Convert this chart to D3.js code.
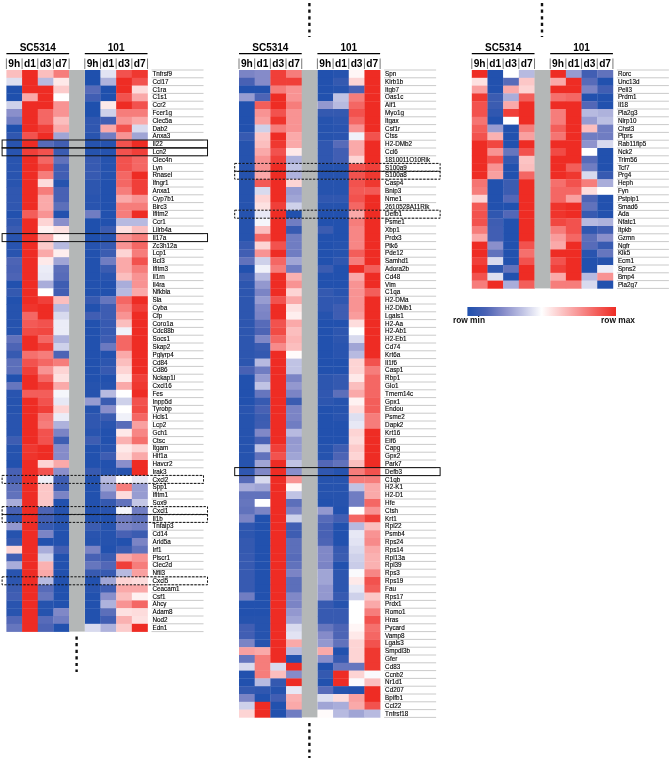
<!DOCTYPE html>
<html><head><meta charset="utf-8">
<script src="https://cdn.jsdelivr.net/npm/d3@7"></script>
<style>html,body{margin:0;background:#fff}svg{display:block;filter:blur(.35px)}text{font-family:"Liberation Sans",Arial,sans-serif}</style>
</head><body><div id="c"></div>
<script>
const strains = ["SC5314","101"];
const times = ["9h","d1","d3","d7"];

const genesA = ["Tnfrsf9","Ccl17","C1ra","C1s1","Ccr2","Fcer1g","Clec5a","Dab2","Anxa3","Il22","Lcn2","Clec4n","Lyn","Rnasel","Ifngr1","Anxa1","Cyp7b1","Birc3","Ifitm2","Ccr1","Lilrb4a","Il17a","Zc3h12a","Lcp1","Bcl3","Ifitm3","Il1rn","Il4ra","Nfkbia","Sla","Cyba","Cfp","Coro1a","Cdc88b","Socs1","Skap2","Pglyrp4","Cd84","Cd86","Nckap1l","Cxcl16","Fes","Inpp5d","Tyrobp","Hcls1","Lcp2","Gch1","Ctsc","Itgam","Hif1a","Havcr2","Irak3","Cxcl2","Spp1","Ifitm1","Sox9","Cxcl1","Il1b","Tnfaip3","Cd14","Arid5a","Irf1","Plscr1","Clec2d","Nfil3","Cxcl5","Ceacam1","Csf1","Ahcy","Adam8","Nod2","Edn1"];
const valuesA = [
[6.5,10,6.5,8,0,4.4,9,9.7],[4.3,10,3.5,5.5,0,3.3,10,9],[0,10,10,6.2,1.5,0,10,5.8],[0,7,10,5,1,0,9,7],[4,10,10,7.5,0,5.5,10,9],[2.5,10,8.5,7.5,0,4,8,8],[2,10,8.5,6.5,.5,1,7.5,7],[0,10,9.5,7,.5,7,9,4.2],[.5,9,10,3,.3,2,7.5,3],[.3,10,1.5,1,.2,.2,9,10],[.3,9.5,9,.8,.2,.2,9,9.5],[.3,10,8.5,1.7,.7,.2,9,8.5],[.3,10,9.2,1,.7,.2,9,8.5],[.3,10,8,1,.7,.2,8.5,10],[.3,10,5.8,.2,.4,.1,8.5,9.5],[.5,10,8,1.2,.4,.1,8,9.5],[.5,10,7,1.2,.3,.1,7,7.5],[.5,10,7,1.6,.3,.1,8,8],[.1,8.7,7.5,.1,2,.1,8,10],[.5,10,6,2.5,0,.1,3.5,3.5],[.8,10,5.3,5.7,0,.8,5.7,6.5],[.3,10,7,5.2,0,.2,7.5,8],[.3,10,6.2,3.5,.2,.6,7.5,8.5],
[.3,10,7,5.4,.1,.8,6,8],[1.3,10,5.5,3,.1,2,7,9],[1.2,10,4.6,1.6,.1,.8,7,8],[1.3,10,4.5,1.5,.1,.3,6.5,7.5],[.1,10,3.2,.9,.1,.1,3.2,7.5],[.6,10,5,1,.1,.1,3.5,7],[.1,10,9.5,6.5,.7,1.8,8.5,10],[.2,9.8,10,3.5,.1,.9,8,9.5],[.2,8.5,10,4.2,1,.9,7.5,10],[.2,8.8,9,4.6,.1,.7,6.5,10],[.2,9.2,9.3,4.6,.1,.7,4.7,10],[1.7,10,8.5,3.3,.1,.9,8.5,10],[1.3,10,9.5,4,.1,1.9,8.5,10],[.7,8.3,8,1.3,.1,.1,7,10],[1.6,9,8.5,8,.1,.4,6.5,10],[1.6,9.5,7.5,6,.1,.7,6,10],[.1,10,8.5,5.7,.1,.1,5.5,9.5],[1.8,10,9.5,7,.2,.2,7,9.7],[.3,8.7,8.7,4.8,.2,3.5,5,10],[.2,10,9,4.5,2.8,.8,4,9],[.2,10,9.5,6,.2,2.5,5,9.2],[.3,10,8.2,4.6,.5,.8,4.7,8.5],[.3,10,8,3.3,.5,.3,1.5,7.2],[.3,10,9,2.2,.3,.1,5.5,7.8],[.9,10,9,.9,.9,.1,6.8,8.3],[.2,9.7,10,2.4,.1,.3,5.5,6],[.2,9.8,10,2.4,.1,.9,5.8,7],[.1,10,6,7,.1,.1,2.5,10],
[1.2,10,9,2.5,.7,.2,.2,10],[1.2,10,4.7,.9,.1,3.5,5,4.5],[1.6,10,6.3,.8,.1,3,8,2.8],[1.7,10,6.3,2.2,.1,2.2,5.8,2.8],[3.2,10,6.3,.1,.1,.6,1.7,3.8],[1.2,10,1.3,.2,.1,.3,4.8,2],[.4,10,1,.2,.1,.1,2,1.6],[2.7,10,.7,.2,.8,.2,2.2,2],[.2,10,2.2,.1,.3,.2,1.2,.8],[.6,10,.1,.1,.2,.2,.1,2.2],[6,10,3.2,1,2.2,.1,.8,1.7],[1,10,4,.1,1.2,.8,7,7.5],[3.2,10,6.8,.1,1.8,1.4,9.5,8],[.3,10,7,.1,.7,.7,3.5,7.2],[.4,10,3.5,.1,.1,3,6,5.8],[.8,10,1.5,.1,.3,1,7,7],[1,10,1.8,.1,.1,2.5,6.5,5.3],[.3,10,.2,.1,.1,3.3,7.5,8.5],[.3,10,.2,2.3,.1,1.6,5.7,5.8],[1.4,10,1.5,2,.1,1,6.8,5.7],[1.8,10,1.3,.1,4.2,3.3,6.2,10]
];

const genesB = ["Spn","Klrb1b","Itgb7","Oas1c","Aif1","Myo1g","Itgax","Csf1r","Ctss","H2-DMb2","Ccl6","1810011O10Rik","S100a9","S100a8","Casp4","Bnip3","Nme1","2610528A11Rik","Defb1","Psme1","Xbp1","Prdx3","Ptk6","Pde12","Samhd1","Adora2b","Cd48","Vim","C1qa","H2-DMa","H2-DMb1","Lgals1","H2-Aa","H2-Ab1","H2-Eb1","Cd74","Krt6a","Il1f6","Casp1","Rbp1","Glo1","Tmem14c","Gpx1","Endou","Psme2","Dapk2","Krt16","Eif6","Capg","Gpx2","Park7","Defb3","C1qb","H2-K1","H2-D1","Hfe","Ctsh","Krt1","Rpl22","Psmb4","Rps24","Rps14","Rpl13a","Rpl39","Rps3","Rps19","Fau","Rps17","Prdx1","Romo1","Hras","Pycard","Vamp8","Lgals3","Smpdl3b","Gfer","Cd83","Ccnb2","Nr1d1","Cd207","Bpifb1","Ccl22","Tnfrsf18"];
const valuesB = [
[2.2,2.4,9.5,8,.1,.2,5.2,10],[1.2,2.4,9.5,9.5,.1,.6,6,10],[.1,.1,8,7.5,.1,.2,1.2,10],[2.8,1.3,10,7.5,.1,3.7,8,10],[.1,8.7,10,8,2.7,3.5,8.5,10],[.1,7.5,9,7.5,.6,.6,9,10],[.1,7.2,9.8,7.5,.2,.4,8.5,10],[.1,4,8,7.5,.2,.3,7.5,10],[.7,6.3,10,7,.2,.3,4.7,9],[.2,6.5,9.7,7,.5,1.5,7,10],[.2,7,9,5.5,.5,1,7,10],[.2,7.5,9.5,3.3,.5,1,6,10],[.2,7.5,10,3.7,.2,.2,9,9.5],[.2,7,10,3.3,.2,.2,9,9.7],[.2,8.8,10,6,.2,.2,9,9.7],[.2,4.2,10,2.8,.2,.2,8.8,8.8],[.2,6,10,3,.5,.5,9,10],[.2,5.7,9.5,4,.2,.2,8.5,10],[.2,4.5,10,.1,.1,.1,7,10],
[.2,4.8,10,2,.1,.1,8,10],[.2,6.5,10,.7,.8,.1,7.8,10],[.2,8.5,10,2,.1,.1,7.8,10],[.7,6,9,2,.1,.2,7.8,10],[1,7.5,10,2,.1,.2,8.7,10],[1.7,4,8.5,3,.1,.5,8,10],[.1,4.7,8,2,.8,.1,10,8.7],[.8,3.5,10,6.8,.1,.1,7,10],[.4,2.7,10,7.5,.1,.1,7.5,10],[.4,2.2,10,6,.6,.3,7.5,8.7],[.4,2.8,9,7,.5,.5,7.5,10],[.4,2.3,10,5.7,.5,.9,7.5,10],[.4,2.2,10,5.4,.2,.9,7.3,10],[.4,1.5,9,7,.1,.1,5.8,10],[.4,1.3,9.2,6.5,.1,.4,5,10],[.4,2.3,8.5,6.7,.1,.4,4.2,10],[.4,.8,7.7,6.5,.1,.3,3,10],[.4,.6,10,5.1,.1,.3,3.5,10],[.4,3.5,10,3.7,.1,.1,6,9],[1.2,2,10,3.7,.1,.1,6,8],[.1,2.8,10,2.2,.4,.6,5.5,8.5],[.1,3.7,10,2.7,.4,.6,6.5,8.5],[.1,1.8,10,2.2,.5,1.6,7,8.5],[.1,.7,10,.8,.4,.2,5.3,8.7],[.3,1.2,10,2.2,.1,.2,5.8,8.7],[.2,.8,10,2.2,.1,.3,4.3,8],
[.2,.9,10,2,.1,.1,4.5,8],[.2,2.3,10,3.5,.1,.1,6,10],[.2,1.2,10,2.7,.1,.1,5.8,10],[.2,3.7,9.5,2.8,.2,.9,6.2,10],[.2,1.7,9,3,.2,1.3,6,10],[.2,3,10,3.7,1.4,1.7,6.5,10],[.5,2.3,10,2.5,.5,.2,8,9],[1.5,4.2,10,7.5,.2,.2,8,8],[3.2,3,10,5.2,.2,.2,3.7,7],[1.7,1.7,10,3.7,.2,.2,2,7],[1.8,5,10,1.6,.1,.2,2,8.5],[1.7,2.2,10,2.2,2.7,.1,5,7.5],[2.2,.1,10,4,1.5,1,8.5,9.5],[.5,.1,10,1,1.2,.1,3.5,6.5],[.4,.1,10,.9,1.2,.1,4.5,7.5],[.6,.1,10,1.6,1.3,.1,4.4,7.7],[.6,.1,10,1.6,2.3,.7,4.2,7],[.7,.1,10,1.5,2.3,.8,4,6.8],[.7,.1,10,1.7,2.2,.1,3.9,6.8],[.7,.1,10,2.2,3,.4,4.9,7.8],[.7,.1,10,1.6,3,.4,5.5,9],[.7,.1,10,1.6,2.7,.4,4.5,8.7],
[2,.1,10,2.3,2.7,.7,4,6.3],[.1,.1,10,2.2,.7,.2,5,7],[.1,.1,10,2.7,.7,.7,5,8],[.2,.2,10,3,.7,.7,5,9],[1,.2,10,4.2,1.8,1.3,5.2,8.3],[1,.2,10,4.4,2.4,1.3,5.5,8.5],[2.2,.2,10,7,2.7,1.7,6,9],[7.2,7,10,3.5,7,.1,6,9.7],[1.8,8,10,.1,2.5,.7,6,9.7],[4.2,8,4.2,10,.1,1.8,1.8,9.7],[.1,8,6.5,2.4,.6,10,6,4.9],[.1,3.5,.6,10,.1,10,4.9,6.5],[.6,.5,.2,4.5,1.5,.2,.1,10],[2.2,.1,1,6.8,4.3,5.8,7.2,10],[4,10,.1,7,3,3.2,7,9],[6,10,.1,2,5.1,3.5,3,3.5]
];

const genesC = ["Rorc","Unc13d","Peli3","Prdm1","Il18","Pla2g3","Nlrp10","Chst3","Ptprs","Rab11fip5","Nck2","Trim56","Tcf7","Prg4","Heph","Fyn","Pstpip1","Smad6","Ada","Nfatc1","Itpkb","Gzmn","Ngfr","Klk5","Ecm1","Spns2","Bmp4","Pla2g7"];
const valuesC = [
[10,.1,5,3.5,10,2.8,1,1.7],[5.7,.1,1.5,6.3,7,10,1.5,.1],[7.2,.1,7,6,10,10,2.2,1],[9.7,.8,3.2,8.7,8.3,8.5,.1,.1],[9,.8,7,10,10,10,1.4,.1],[9,.5,9.5,10,8,10,3.5,3.3],[8.2,.1,5,10,8,10,2.8,3.6],[8.7,2.8,.1,8,8.7,10,6.5,2],[9,6.8,.1,7.2,8.2,10,2,2],[10,9.3,.1,10,10,10,2.6,4.2],[10,7.5,1.8,9,9.2,10,5,.1],[10,9,.6,6.4,10,10,1.5,.1],[10,7.5,.1,6.5,10,8.7,2,.1],[10,7.2,.1,8.5,10,9.7,4.2,.7],[8.2,.1,.8,10,8.3,9,8,3.2],[8,.1,.8,10,8.5,8.5,5.8,5],[6,.1,1.4,10,8.5,7.2,1.3,.1],[8.8,.1,.1,10,9.8,10,1.7,.1],[9,.5,1.4,10,9.8,10,.7,.1],[9,.9,.1,10,9.3,9,3.5,3.3],[8,1,.1,10,8,9,.5,1],[7,1,.1,10,7.3,8.5,1.6,2.5],[10,2.5,.1,9,7,10,1.5,.7],[10,1.7,.1,8.3,10,10,.3,1.8],[9.5,4.2,.1,9,9,10,.1,.2],[10,.4,1.7,10,9.5,10,.1,4.6],[9,4.3,.1,10,7,10,3.5,7.5],[8,10,3.2,8.7,8,8,4.2,.1]
];

const solidA = ["Il22","Lcn2","Il17a"];
const dashedA = ["Cxcl2","Cxcl1","Il1b","Cxcl5"];
const solidB = ["Defb3"];
const dashedB = ["S100a9","S100a8","Defb1"];
const legendLabels = ["row min","row max"];

const W = 669, H = 759, topY = 70, rowH = 7.8, colW = 15.68;
const svg = d3.select("#c").append("svg").attr("width",W).attr("height",H);
const color = d3.scaleLinear()
  .domain([0,1.25,2.5,3.75,5,6.25,7.5,8.75,10])
  .range(["#1f50ad","#4a62b4","#8a8fcb","#c2c5e5","#ffffff","#fcc9c9","#f89393","#f35c58","#ee2c24"])
  .clamp(true);

function panel(x0, genes, values, solid, dashed){
  const g = svg.append("g").attr("transform",`translate(${x0},0)`);
  const slots = d3.range(9);
  const x = d3.scaleBand().domain(slots).range([0,9*colW]);
  const y = d3.scaleBand().domain(genes).range([topY, topY+genes.length*rowH]);
  const right = 9*colW;
  const slotOf = j => j<4 ? j : j+1;

  const rows = g.selectAll(".r").data(values).join("g").attr("class","r").attr("transform",(d,i)=>`translate(0,${y(genes[i])})`);
  rows.selectAll("rect").data(d=>d).join("rect")
    .attr("x",(d,j)=>x(slotOf(j))).attr("width",x.bandwidth()+.3)
    .attr("height",y.bandwidth()+.3).attr("fill",d=>color(d));
  g.append("rect").attr("x",x(4)).attr("y",topY).attr("width",x.bandwidth())
    .attr("height",genes.length*rowH).attr("fill","#b4b7b7");

  const axis = d3.axisRight(y).tickSize(0).tickPadding(5);
  const ax = g.append("g").attr("transform",`translate(${right},0)`).call(axis);
  ax.select(".domain").remove();
  ax.selectAll("text").attr("font-size",6.3).attr("fill","#000").attr("font-family","Liberation Sans")
    .attr("stroke","#000").attr("stroke-width",.12);
  g.selectAll(".sep").data([topY].concat(genes.map(n=>y(n)+rowH))).join("line").attr("class","sep")
    .attr("x1",right+4).attr("x2",right+56).attr("y1",d=>d).attr("y2",d=>d)
    .attr("stroke","#c4c4c4").attr("stroke-width",.9);

  strains.forEach((s,k)=>{
    const a = x(k*5), b = a+4*colW;
    g.append("line").attr("x1",a).attr("x2",b).attr("y1",53.7).attr("y2",53.7).attr("stroke","#000").attr("stroke-width",1.3);
    g.append("text").attr("x",(a+b)/2).attr("y",50.5).attr("text-anchor","middle")
      .attr("font-size",10).attr("font-weight","bold").attr("fill","#000").text(s);
    times.forEach((t,j)=>{
      g.append("text").attr("x",x(k*5+j)+colW/2).attr("y",67).attr("text-anchor","middle")
        .attr("font-size",10.2).attr("font-weight","bold").attr("fill","#000").text(t);
    });
    d3.range(5).forEach(j=>{
      g.append("line").attr("x1",a+j*colW).attr("x2",a+j*colW).attr("y1",58.5).attr("y2",69)
        .attr("stroke","#555").attr("stroke-width",.8);
    });
  });

  const box = (list,dash)=>list.forEach(n=>{
    g.append("rect").attr("x",-4.3).attr("y",y(n)-.2).attr("width",right+4.3+(n==="Cxcl2"?56:60)).attr("height",rowH+.2)
      .attr("fill","none").attr("stroke","#111").attr("stroke-width",1)
      .attr("stroke-dasharray",dash?"2.4,1.4":null);
  });
  box(solid,false); box(dashed,true);
}
panel(6.4, genesA, valuesA, solidA, dashedA);
panel(239, genesB, valuesB, solidB, dashedB);
panel(471.8, genesC, valuesC, [], []);

[[76.6,636.5,672],[309.4,3,37],[309.4,723,758],[542,3,37]].forEach(([x,a,b])=>{
  svg.append("line").attr("x1",x).attr("x2",x).attr("y1",a).attr("y2",b)
    .attr("stroke","#111").attr("stroke-width",2.4).attr("stroke-dasharray","3.2,3.4");
});

const grad = svg.append("defs").append("linearGradient").attr("id","lg");
color.domain().forEach(d=>grad.append("stop").attr("offset",d*10+"%").attr("stop-color",color(d)));
svg.append("rect").attr("x",467.4).attr("y",307).attr("width",148.6).attr("height",9).attr("fill","url(#lg)");
svg.append("text").attr("x",485).attr("y",323).attr("text-anchor","end").attr("font-size",8.4).attr("font-weight","bold").attr("fill","#111").text(legendLabels[0]);
svg.append("text").attr("x",601).attr("y",323).attr("font-size",8.4).attr("font-weight","bold").attr("fill","#111").text(legendLabels[1]);
</script></body></html>
